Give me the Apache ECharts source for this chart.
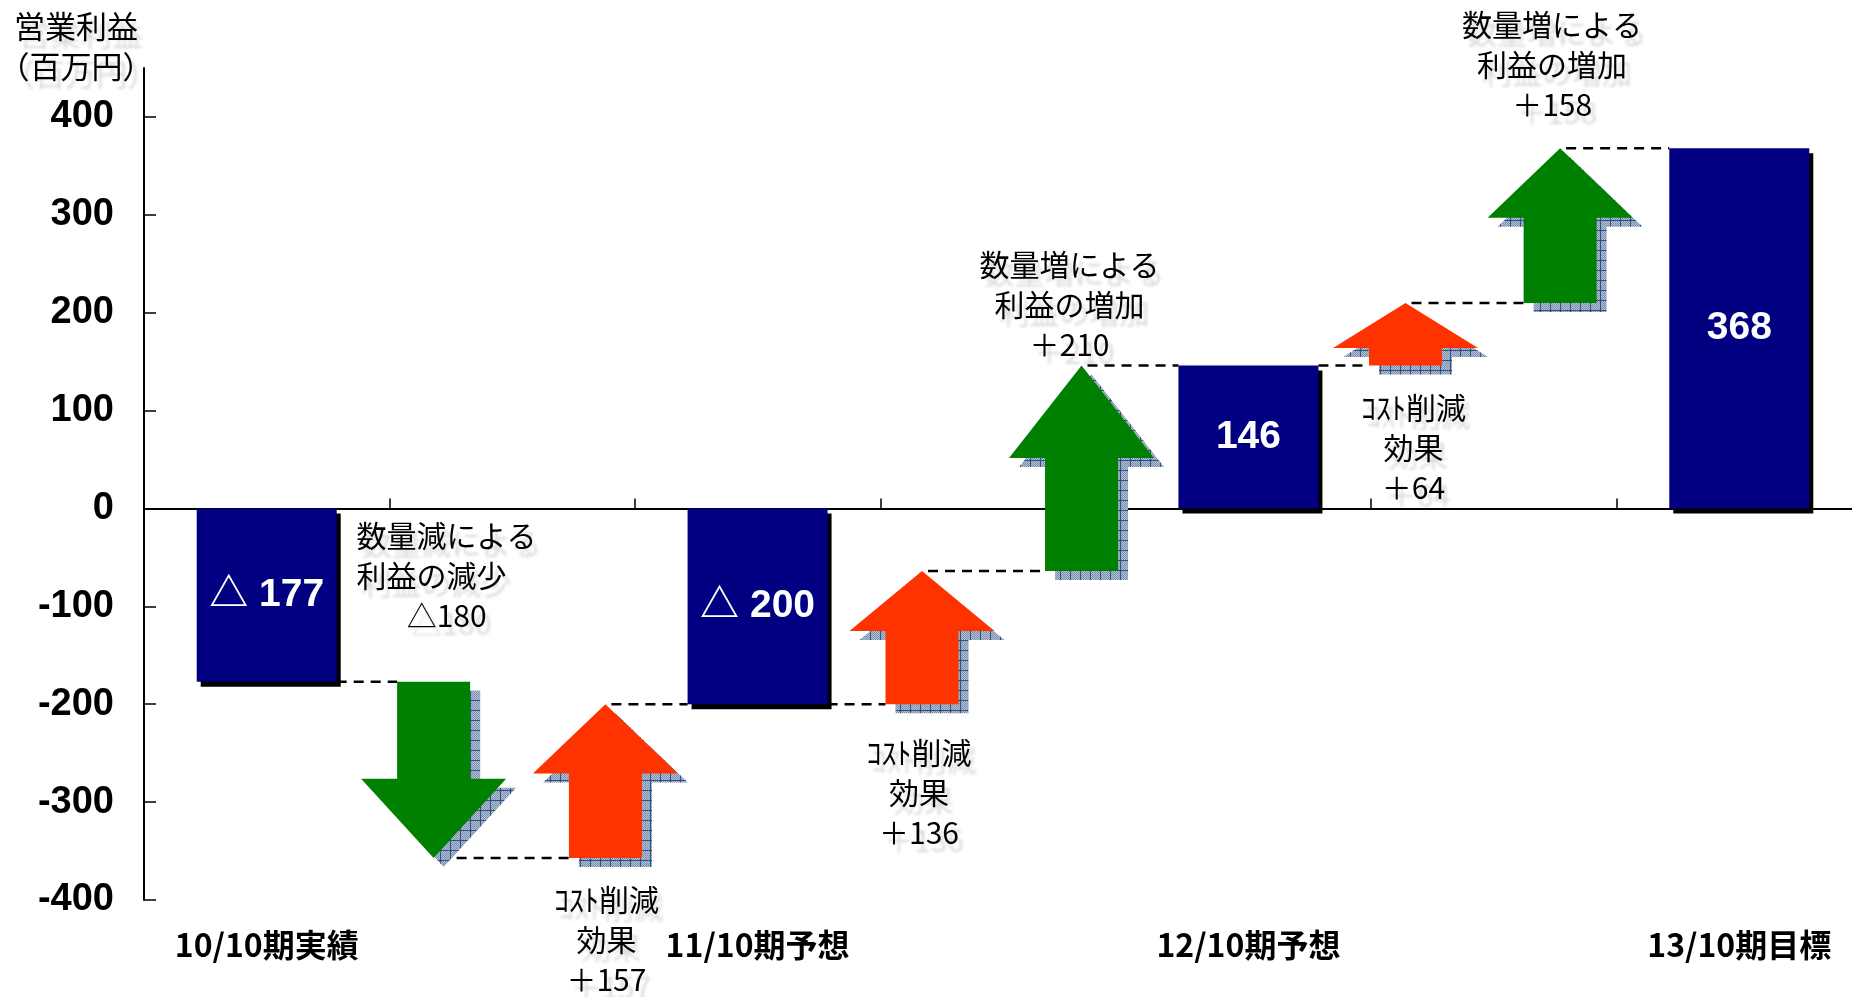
<!DOCTYPE html>
<html>
<head>
<meta charset="utf-8">
<script src="https://cdn.jsdelivr.net/npm/echarts@6/dist/echarts.min.js"></script>
<style>
html, body { margin: 0; padding: 0; background: #fff; }
#chart { width: 1852px; height: 997px; }
</style>
</head>
<body>
<div id="chart"></div>
<script>
// 営業利益の推移（百万円）: period totals and the changes between them
const categories = ['10/10期実績', '', '11/10期予想', '', '12/10期予想', '', '13/10期目標'];
const totals = [-177, null, -200, null, 146, null, 368];

// change steps, placed between the period bars (x in category units)
const stepX = [0.68, 1.38, 2.67, 3.32, 4.64, 5.27];
const stepDelta = [-180, 157, 136, 210, 64, 158];
const stepType = ['volume', 'cost', 'cost', 'volume', 'cost', 'volume'];

const yTicks = [-400, -300, -200, -100, 0, 100, 200, 300, 400];

// ---- drawing constants ----
const BAR_W = 140;
const BAR_HALF = BAR_W / 2;
const BODY_HALF = 36.5;
const HEAD_HALF = 72.5;
const TIP_PAD = 6;
const SHADOW_DX = 10, SHADOW_DY = 9;
const COLORS = { bar: '#000080', volume: '#008000', cost: '#FF3300' };
const JP = '"Noto Sans CJK JP", "Noto Sans CJK SC", sans-serif';
const NOTE_FONT = '30px ' + JP;
const NOTE_LH = 40;
const GHOST = { textShadowColor: 'rgba(0,0,0,0.15)', textShadowBlur: 3, textShadowOffsetX: 5, textShadowOffsetY: 8 };

// where each step's caption sits: next to the arrow's upper or lower end
const noteLayout = [
  { side: 'top', dx: 13, dy: -66 },
  { side: 'bottom', dx: 1, dy: 42 },
  { side: 'bottom', dx: -3, dy: 48 },
  { side: 'top', dx: -12, dy: -21 },
  { side: 'bottom', dx: 8, dy: 42 },
  { side: 'top', dx: -8, dy: -44 }
];

function fmtSigned(v) {
  return v < 0 ? '△' + Math.abs(v) : '＋' + v;
}
function stepCaption(type, d) {
  let head;
  if (type === 'cost') head = 'ｺｽﾄ削減\n効果';
  else head = d < 0 ? '数量減による\n利益の減少　' : '数量増による\n利益の増加';
  return head + '\n' + fmtSigned(d);
}

// running totals for each step
const bars = [];
totals.forEach((v, i) => { if (v !== null) bars.push({ x: i, kind: 'bar', to: v }); });
let running = bars[0].to;
const steps = stepDelta.map((d, k) => {
  const s = { x: stepX[k], kind: 'arrow', from: running, to: running + d };
  running += d;
  return s;
});
const stepData = steps.map((s, k) => [s.x, s.from, s.to, k]);

// dashed connectors between consecutive marks
const sequence = bars.concat(steps).sort((a, b) => a.x - b.x);
const connectorData = [];
for (let i = 0; i < sequence.length - 1; i++) {
  const a = sequence[i], b = sequence[i + 1];
  connectorData.push([a.x, b.x, a.to, a.kind === 'bar' ? 0 : 1, b.kind === 'bar' ? 0 : 1]);
}

// cross-hatched fill used for the arrow shadows
function makeHatch() {
  const c = document.createElement('canvas');
  c.width = 10; c.height = 10;
  const g = c.getContext('2d');
  for (let y = 0; y < 10; y++) {
    for (let x = 0; x < 10; x++) {
      g.fillStyle = (x + y) % 2 ? '#b4c1d3' : '#7a90b0';
      g.fillRect(x, y, 1, 1);
    }
  }
  g.fillStyle = '#2f5282';
  g.fillRect(0, 0, 10, 1);
  g.fillRect(0, 0, 1, 10);
  return c;
}
const hatch = { image: makeHatch(), repeat: 'repeat' };

const chart = echarts.init(document.getElementById('chart'), null, { renderer: 'canvas' });

chart.setOption({
  animation: false,
  backgroundColor: '#fff',
  grid: { left: 144, top: 68, width: 1718, height: 832, containLabel: false, outerBoundsMode: 'none' },
  graphic: [{
    type: 'text',
    x: 76, y: 6,
    z: 10,
    style: Object.assign({
      text: '営業利益\n（百万円）',
      font: '31px ' + JP,
      fill: '#000',
      align: 'center', textAlign: 'center',
      verticalAlign: 'top', textVerticalAlign: 'top',
      lineHeight: 40
    }, GHOST)
  }],
  xAxis: [
    {
      type: 'category',
      data: categories,
      position: 'bottom',
      axisLine: { show: true, onZero: true, lineStyle: { color: '#000', width: 2 } },
      axisTick: { show: true, inside: true, length: 10, lineStyle: { color: '#000', width: 1.5 } },
      axisLabel: { show: false },
      splitLine: { show: false }
    },
    {
      type: 'category',
      data: categories,
      position: 'bottom',
      axisLine: { show: false, onZero: false },
      axisTick: { show: false },
      axisLabel: {
        show: true, interval: 0, margin: 29,
        color: '#000', fontSize: 32, fontWeight: 'bold', fontFamily: JP
      },
      splitLine: { show: false }
    },
    { type: 'value', min: -0.5, max: 6.5, show: false }
  ],
  yAxis: {
    type: 'value',
    min: -400, max: 450, interval: 100,
    axisLine: { show: true, onZero: false, lineStyle: { color: '#000', width: 2 } },
    axisTick: { show: true, inside: true, length: 12, customValues: yTicks, lineStyle: { color: '#000', width: 1.5 } },
    axisLabel: {
      customValues: yTicks, margin: 30,
      color: '#000', fontSize: 38, fontWeight: 'bold', fontFamily: '"Liberation Sans", Arial, sans-serif'
    },
    splitLine: { show: false }
  },
  series: [
    {
      type: 'bar',
      xAxisIndex: 0,
      yAxisIndex: 0,
      barWidth: BAR_W,
      data: totals.map(v => (v === null ? '-' : v)),
      itemStyle: { color: COLORS.bar, shadowColor: '#000', shadowBlur: 0, shadowOffsetX: 4, shadowOffsetY: 5 },
      label: {
        show: true,
        position: 'inside',
        color: '#fff',
        fontSize: 39,
        fontWeight: 'bold',
        fontFamily: '"Liberation Sans", Arial, "Noto Sans CJK JP", sans-serif',
        formatter: p => (p.value < 0 ? '△ ' + Math.abs(p.value) : String(p.value))
      },
      emphasis: { disabled: true },
      z: 3
    },
    {
      type: 'custom',
      name: 'connectors',
      xAxisIndex: 2,
      yAxisIndex: 0,
      clip: false,
      silent: true,
      z: 4,
      data: connectorData,
      renderItem: (params, api) => {
        const y = api.coord([api.value(0), api.value(2)])[1];
        const xa = api.coord([api.value(0), 0])[0];
        const xb = api.coord([api.value(1), 0])[0];
        const x0 = xa + (api.value(3) === 0 ? BAR_HALF : TIP_PAD);
        const x1 = xb - (api.value(4) === 0 ? BAR_HALF : BODY_HALF);
        return {
          type: 'line',
          shape: { x1: x0, y1: y, x2: x1, y2: y },
          style: { stroke: '#000', lineWidth: 2.5, lineDash: [10, 7] }
        };
      }
    },
    {
      type: 'custom',
      name: 'steps',
      xAxisIndex: 2,
      yAxisIndex: 0,
      clip: false,
      silent: true,
      z: 5,
      data: stepData,
      renderItem: (params, api) => {
        const k = api.value(3);
        const cx = api.coord([api.value(0), 0])[0];
        const y0 = api.coord([api.value(0), api.value(1)])[1];
        const y1 = api.coord([api.value(0), api.value(2)])[1];
        const dir = y1 < y0 ? -1 : 1;
        const len = Math.abs(y1 - y0);
        const head = Math.max(len * 0.45, 45);
        const yb = y1 - dir * head;
        const pts = [
          [cx - BODY_HALF, y0], [cx + BODY_HALF, y0], [cx + BODY_HALF, yb],
          [cx + HEAD_HALF, yb], [cx, y1], [cx - HEAD_HALF, yb], [cx - BODY_HALF, yb]
        ];
        const shadowPts = pts.map(p => [p[0] + SHADOW_DX, p[1] + SHADOW_DY]);
        const lay = noteLayout[k];
        const top = Math.min(y0, y1), bottom = Math.max(y0, y1);
        let ty, va;
        if (lay.side === 'top') { ty = top + lay.dy + NOTE_LH / 2; va = 'bottom'; }
        else { ty = bottom + lay.dy - NOTE_LH / 2; va = 'top'; }
        return {
          type: 'group',
          children: [
            { type: 'polygon', shape: { points: shadowPts }, style: { fill: hatch } },
            { type: 'polygon', shape: { points: pts }, style: { fill: COLORS[stepType[k]] } },
            {
              type: 'text',
              style: Object.assign({
                text: stepCaption(stepType[k], stepDelta[k]),
                x: cx + lay.dx, y: ty,
                font: NOTE_FONT,
                fill: '#000',
                align: 'center', textAlign: 'center',
                verticalAlign: va, textVerticalAlign: va,
                lineHeight: NOTE_LH
              }, GHOST)
            }
          ]
        };
      }
    }
  ]
});
</script>
</body>
</html>
